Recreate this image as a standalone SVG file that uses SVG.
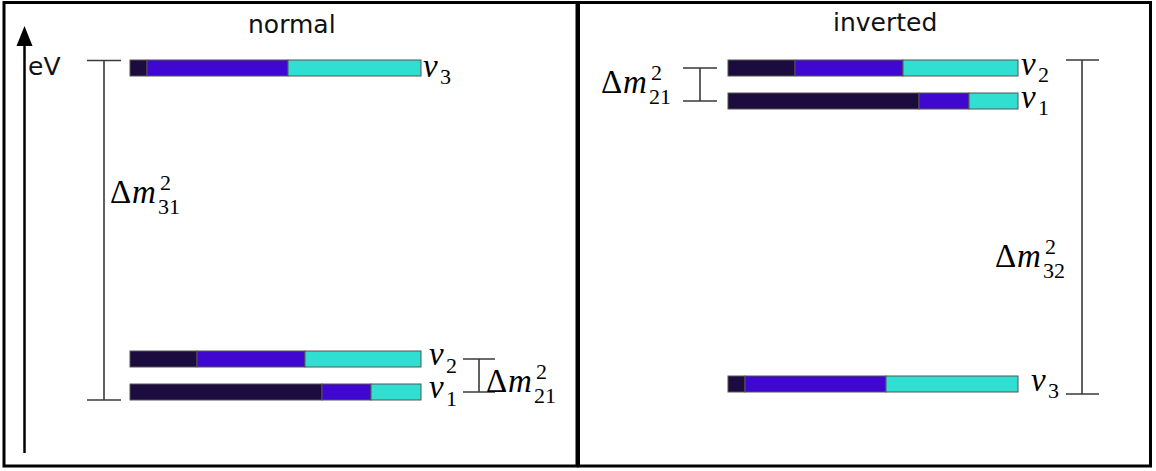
<svg xmlns="http://www.w3.org/2000/svg" width="1156" height="471" viewBox="0 0 1156 471">
<style>
.frame{fill:#fff;stroke:#000;stroke-width:3}
.seg{stroke:#555;stroke-width:1}
.d{fill:#1c0b3e}
.b{fill:#3f07cf}
.c{fill:#31dfd2}
.scale{stroke:#3a3a3a;stroke-width:1.6;fill:none}
.title{font-family:"DejaVu Sans",sans-serif;font-size:25px;fill:#111}
.m{font-family:"Liberation Serif",serif;font-size:33px;fill:#000}
.it{font-style:italic}
.s{font-size:22px;font-style:normal}
</style>
<rect class="frame" x="4" y="2.5" width="573" height="463.5"/>
<rect class="frame" x="578.5" y="2.5" width="572" height="463.5"/>
<text class="title" x="248" y="33">normal</text>
<text class="title" x="833" y="31">inverted</text>
<g id="axis">
<line x1="24.5" y1="453" x2="24.5" y2="42" stroke="#000" stroke-width="2.5"/>
<polygon points="24.5,26 16.5,46 32.5,46" fill="#000"/>
<text class="title" x="28" y="75">eV</text>
</g>
<g id="connectors">
<path class="scale" d="M87,60.5H121M104,60.5V400M87,400H121"/>
<path class="scale" d="M463,359H495M479,359V392M463,392H495"/>
<path class="scale" d="M683,68H717M700,68V101M683,101H717"/>
<path class="scale" d="M1066,60H1099M1082,60V394M1066,394H1099"/>
</g>
<g id="normal-nu3">
<rect class="seg d" x="130" y="60" width="17" height="16"/>
<rect class="seg b" x="147" y="60" width="141" height="16"/>
<rect class="seg c" x="288" y="60" width="133" height="16"/>
<text class="m it" x="423" y="77">ν<tspan class="s" x="440" y="84">3</tspan></text>
</g>
<g id="normal-nu2">
<rect class="seg d" x="130" y="351" width="67" height="16"/>
<rect class="seg b" x="197" y="351" width="108" height="16"/>
<rect class="seg c" x="305" y="351" width="116" height="16"/>
<text class="m it" x="429" y="365">ν<tspan class="s" x="446" y="373">2</tspan></text>
</g>
<g id="normal-nu1">
<rect class="seg d" x="130" y="384" width="192" height="16"/>
<rect class="seg b" x="322" y="384" width="49" height="16"/>
<rect class="seg c" x="371" y="384" width="50" height="16"/>
<text class="m it" x="429" y="398">ν<tspan class="s" x="446" y="406">1</tspan></text>
</g>
<g id="dm31">
<text class="m" x="110" y="203">Δ<tspan class="it" x="132">m</tspan><tspan class="s" x="160" y="190">2</tspan><tspan class="s" x="158" y="214">31</tspan></text>
</g>
<g id="dm21-normal">
<text class="m" x="486" y="392">Δ<tspan class="it" x="508">m</tspan><tspan class="s" x="536" y="379">2</tspan><tspan class="s" x="534" y="403">21</tspan></text>
</g>
<g id="inverted-nu2">
<rect class="seg d" x="728" y="60" width="67" height="16"/>
<rect class="seg b" x="795" y="60" width="108" height="16"/>
<rect class="seg c" x="903" y="60" width="115" height="16"/>
<text class="m it" x="1021" y="75">ν<tspan class="s" x="1038" y="82">2</tspan></text>
</g>
<g id="inverted-nu1">
<rect class="seg d" x="728" y="93" width="191" height="16"/>
<rect class="seg b" x="919" y="93" width="50" height="16"/>
<rect class="seg c" x="969" y="93" width="49" height="16"/>
<text class="m it" x="1021" y="108">ν<tspan class="s" x="1038" y="115">1</tspan></text>
</g>
<g id="inverted-nu3">
<rect class="seg d" x="728" y="376" width="17" height="16"/>
<rect class="seg b" x="745" y="376" width="141" height="16"/>
<rect class="seg c" x="886" y="376" width="132" height="16"/>
<text class="m it" x="1031" y="391">ν<tspan class="s" x="1048" y="398">3</tspan></text>
</g>
<g id="dm21-inverted">
<text class="m" x="601" y="93">Δ<tspan class="it" x="623">m</tspan><tspan class="s" x="651" y="80">2</tspan><tspan class="s" x="649" y="104">21</tspan></text>
</g>
<g id="dm32">
<text class="m" x="995" y="267">Δ<tspan class="it" x="1017">m</tspan><tspan class="s" x="1045" y="254">2</tspan><tspan class="s" x="1043" y="278">32</tspan></text>
</g>
</svg>
